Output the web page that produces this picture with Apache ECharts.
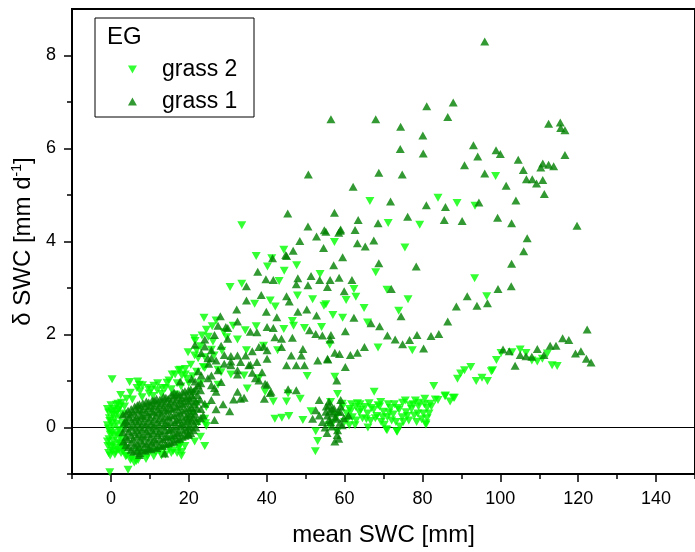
<!DOCTYPE html>
<html>
<head>
<meta charset="utf-8">
<script src="https://cdn.jsdelivr.net/npm/echarts@6/dist/echarts.min.js"></script>
<style>
  html, body { margin: 0; padding: 0; background: #fff; }
  #chart { width: 695px; height: 552px; }
</style>
</head>
<body>
<div id="chart"></div>
<script>
// tick positions
const xMajor = [0, 20, 40, 60, 80, 100, 120, 140]
const xMinor = [-10, 10, 30, 50, 70, 90, 110, 130, 150]
const yMajor = [0, 2, 4, 6, 8]
const yMinor = [-1, 1, 3, 5, 7]

// grass 2 (light green, down triangles)  [mean SWC, delta SWC]
const grass2 = [
  [98.8,5.41],[66.5,4.87],[84.0,4.94],[88.9,4.83],[93.5,4.77],[71.2,4.40],[79.3,4.36],[57.4,3.99],[75.5,3.87],
  [68.0,3.34],[70.9,2.96],[62.4,2.98],[62.9,2.81],[60.4,2.74],[76.3,2.76],[65.0,2.57],[73.9,2.51],[57.0,2.42],
  [59.5,2.36],[65.9,2.26],[55.2,2.65],[93.4,3.21],[96.5,2.82],[68.6,1.72],[77.4,1.66],[56.2,1.78],[57.5,1.09],
  [58.2,0.72],[67.6,0.77],[82.9,0.89],
  [84.0,0.59],[85.9,0.69],[87.1,0.56],[88.2,0.64],[89.0,1.05],[89.8,1.16],[90.8,1.23],[92.4,1.30],[93.8,1.00],
  [95.3,1.07],[96.7,1.00],[97.7,1.21],[99.0,1.45],[100.2,1.60],[103.0,1.62],[83.3,0.60],[85.8,0.67],[87.9,0.64],
  [98.0,1.23],[105.1,1.68],[106.6,1.60],[108.1,1.44],[109.5,1.42],[110.8,1.48],[112.1,1.59],[113.3,1.34],[114.6,1.32],
  [70.7,-0.04],[73.4,-0.08],[80.9,0.06],[67.4,-1.02],
  [59.5,0.45],[60.5,0.30],[61.3,0.40],[62.0,0.22],[62.7,0.05],[62.9,0.44],[63.8,0.33],[64.6,0.20],[65.2,0.44],
  [65.9,0.30],[66.7,0.14],[67.5,0.38],[68.3,0.25],[68.6,0.48],[69.4,0.12],[70.0,0.34],[70.9,-0.06],[71.0,0.22],
  [71.8,0.42],[72.5,0.28],[73.2,0.12],[73.5,-0.09],[74.0,0.38],[74.8,0.22],[74.9,0.53],[75.8,0.33],[76.5,0.15],
  [77.2,0.40],[77.9,0.26],[78.5,0.12],[79.0,0.45],[79.1,0.53],[80.2,0.30],[80.9,0.09],[81.2,0.20],[81.2,0.42],
  [82.0,0.51],[60.0,0.12],[61.8,0.50],[64.0,0.50],[66.3,0.52],[69.0,0.45],[72.8,0.50],[76.8,0.48],[78.2,0.58],
  [80.6,0.62],[70.2,0.06],[74.2,0.02],[63.0,0.15],[58.0,0.25],[57.0,0.10],[56.0,0.05],
  [60.8,0.18],[63.3,0.52],[64.2,0.38],[65.6,0.18],[66.9,0.42],[67.9,0.20],[69.8,0.22],[71.4,0.32],[72.1,0.15],
  [73.7,0.42],[75.1,0.12],[76.1,0.25],[77.6,0.50],[78.8,0.30],[79.8,0.18],[81.7,0.30],[61.2,0.05],[66.0,0.00],
  [69.3,0.55],[75.6,0.58],[71.2,0.50],[80.5,0.50],[82.3,0.45],
  [33.6,4.35],[37.3,3.69],[41.3,3.64],[40.2,3.46],[44.4,3.82],[47.7,3.49],[44.5,3.37],[43.2,3.15],[53.7,3.30],
  [30.6,3.02],[33.6,3.09],[36.9,2.66],[40.9,2.73],[42.2,2.60],[47.9,2.84],[51.8,2.76],[54.7,2.62],[23.9,2.36],
  [26.0,2.18],[31.4,2.19],[37.3,2.18],[34.5,2.09],[44.4,2.12],[46.6,2.29],[46.9,2.19],[49.7,2.14],[54.1,2.16],
  [21.4,1.92],[23.4,1.98],[26.2,1.85],[29.7,1.94],[32.5,1.89],[19.8,1.62],[22.0,1.66],[24.1,1.51],[34.8,1.66],
  [39.2,1.76],[42.8,1.66],[50.4,1.11],[19.1,1.26],[18.2,1.12],[28.3,1.19],[34.2,1.12],[38.0,1.06],[35.0,0.84],
  [39.6,0.77],[41.7,0.56],[45.1,0.56],[48.6,0.62],[45.5,0.73],[42.1,0.19],[43.9,0.21],[45.7,0.25],[49.3,0.16],
  [51.4,0.35],[24.3,0.09],[53.1,-0.29],[52.5,-0.51],[52.6,-0.08],[24.1,-0.40],[58.1,-0.09],[56.4,0.55],[59.4,0.51],
  [61.6,0.35],
  [21.6,1.86],[17.8,1.24],[15.7,1.14],[19.1,1.14],[22.4,1.49],[25.8,1.67],[24.1,1.28],[27.5,1.24],[27.5,0.92],
  [30.8,1.14],[24.5,0.03],[16.5,0.71],[14.4,0.96],[10.3,0.81],[7.3,0.92],[13.2,0.85],[17.4,-0.44],[18.1,-0.61],
  [14.0,-0.58],[9.4,-0.61],[6.5,-0.72],[3.1,-0.51],[1.4,-0.44],[0.6,-0.29],[-0.3,-0.08],[-0.3,0.14],[0.2,0.35],
  [1.4,0.49],[2.7,0.53],
  [20.5,1.35],[21.5,1.55],[23.0,1.75],[22.0,1.20],[25.0,1.95],[26.5,1.55],[28.5,1.65],[29.0,2.05],[27.0,2.30],
  [24.5,2.10],[21.0,0.75],[22.0,0.50],[23.0,0.95],
  [0.3,1.04],[4.8,0.98],[6.9,0.99],[8.1,0.91],[6.7,0.85],[4.0,0.62],[1.8,0.51],[11.9,0.80],[9.8,0.73],
  [14.9,1.01],[16.5,1.14],[17.4,1.23],[23.7,1.30],[24.5,0.44],[24.1,0.19],[18.2,-0.52],[17.4,-0.38],[6.0,-0.75],
  [4.4,-0.91],[-0.3,-0.96],[11.5,-0.52],[13.6,-0.45],[6.9,-0.52],[15.7,-0.26],[17.8,-0.36],
  [-0.6,-0.55],[0.2,-0.5],[1.0,-0.58],[2.0,-0.48],[-0.8,-0.4],[0.5,-0.38],[1.8,-0.32],[2.8,-0.4],[-0.5,-0.25],
  [0.9,-0.18],[2.2,-0.2],[-0.7,-0.02],[0.6,0.02],[1.9,-0.05],[2.9,0.05],[-0.4,0.2],[1.0,0.18],[2.3,0.22],
  [-0.6,0.32],[0.8,0.4],[2.0,0.38],[3.0,0.3],[0.0,0.48],[1.2,0.28],[2.6,-0.1],[-0.2,-0.6],[1.5,0.08],[3.0,-0.25],
  [-0.9,-0.3],[-0.9,0.05],[-0.9,0.4],[0.3,-0.12],[0.3,0.1],[1.5,-0.15],[1.5,0.35],[2.4,0.45],[2.4,-0.35],
  [3.5,-0.45],[3.5,0.1],[0.0,-0.42],[1.2,-0.52],[2.6,-0.55],[0.5,0.28],[-0.2,-0.15],[3.8,-0.62],[5.0,-0.70],
  [7.0,-0.70],[9.0,-0.68],[11.0,-0.62],[13.0,-0.60],[15.5,-0.55],[17.0,-0.55],[5.0,0.75],[7.5,0.78],[9.5,0.85],
  [11.0,0.90],[14.0,0.85],[17.0,0.95],[19.5,1.05],[21.0,1.10],
  [4.0,-0.6],[5.2,-0.65],[8.5,-0.55],[12.5,-0.5],[15.0,-0.45],[3.5,0.45],[5.5,0.6],[8.0,0.65],[10.8,0.68],
  [13.0,0.72],[15.5,0.82],[18.0,0.88],[20.0,0.95],[21.0,0.3],[22.5,0.1],[23.0,-0.2],[21.5,-0.3],[19.0,-0.4],
  [16.0,-0.5],[2.5,0.7],[12.0,0.95]
]

// grass 1 (dark green, up triangles)
const grass1 = [
  [96.0,8.30],[81.1,6.91],[87.9,6.99],[86.5,6.68],[56.5,6.63],[68.0,6.63],[74.4,6.47],[80.1,6.28],[74.3,5.99],
  [80.2,5.89],[93.1,6.07],[94.2,5.83],[98.9,5.96],[100.0,5.88],[104.6,5.76],[90.8,5.64],[68.8,5.48],[74.8,5.44],
  [96.0,5.46],[101.5,5.20],[62.2,5.18],[71.8,4.86],[81.0,4.78],[85.9,4.74],[94.5,4.84],[104.0,4.88],[57.4,4.62],
  [63.5,4.46],[68.6,4.39],[76.2,4.53],[85.6,4.46],[90.2,4.44],[99.3,4.51],[102.9,4.39],[59.0,4.26],[58.5,4.19],
  [62.7,4.25],[55.2,4.21],[67.5,4.02],[63.3,3.96],[65.3,3.89],
  [112.4,6.53],[115.4,6.56],[115.5,6.44],[116.6,6.39],[116.6,5.86],[105.9,5.54],[110.9,5.68],[112.4,5.65],[113.7,5.62],
  [110.4,5.59],[106.7,5.34],[108.2,5.34],[109.3,5.25],[110.9,5.32],[111.3,5.02],[119.7,4.34],
  [106.9,4.07],[106.0,3.79],[102.9,3.52],[99.4,2.98],[102.8,3.04],[122.3,2.11],[116.0,1.92],[117.6,1.88],[112.8,1.76],
  [114.3,1.76],[109.5,1.69],[100.7,1.68],[102.3,1.64],[105.1,1.56],[106.6,1.53],[108.1,1.52],[111.2,1.56],[119.3,1.59],
  [120.7,1.64],[122.1,1.48],[123.3,1.40],[103.8,1.33],
  [59.5,3.66],[57.2,3.49],[68.8,3.53],[78.4,3.46],[56.3,3.17],[58.6,3.22],[61.9,3.17],[55.6,3.02],[59.9,2.93],
  [72.0,2.98],[91.5,2.82],[94.0,2.62],[96.7,2.67],[88.7,2.60],[86.5,2.28],[62.4,2.36],[74.5,2.39],[66.8,2.24],
  [69.0,2.18],[60.2,2.07],[56.5,1.99],[56.3,1.89],[71.0,1.98],[73.0,1.89],[76.7,1.88],[78.6,1.99],[74.9,1.79],
  [80.3,1.70],[82.2,1.97],[84.2,2.01],[65.1,1.73],[63.3,1.61],[61.5,1.56],[57.5,1.61],[58.7,1.58],[55.7,1.46],
  [60.2,1.30],[58.0,1.01],[59.0,0.59],[56.0,0.48],[57.3,0.41],[58.4,0.34],[55.6,0.26],[57.7,0.19],[56.4,0.12],
  [58.2,-0.06],[58.1,-0.16],
  [55.0,0.00],[55.5,-0.12],[56.8,0.02],[57.0,0.30],[58.8,0.10],[59.8,0.20],[56.2,0.35],[57.5,-0.30],[59.0,0.45],
  [55.3,0.45],
  [50.7,5.44],[45.4,4.60],[52.8,4.11],[44.9,3.71],[41.5,3.64],
  [50.6,4.32],[54.8,4.24],[58.9,4.23],[48.5,4.01],[54.6,3.86],[46.8,3.80],[45.1,3.69],[37.7,3.35],[39.8,3.19],
  [41.7,3.17],[51.4,3.26],[48.0,3.21],[53.6,3.17],[34.8,3.04],[50.6,3.06],[47.6,3.08],[38.6,2.85],[45.1,2.82],
  [45.8,2.71],[34.8,2.73],[32.3,2.54],[39.9,2.49],[48.0,2.49],[50.3,2.54],[42.6,2.37],[52.8,2.41],[28.1,2.39],
  [40.1,2.16],[41.7,2.14],[37.5,2.05],[35.8,2.06],[42.1,1.94],[43.8,1.91],[46.6,1.93],[51.0,2.09],[52.6,2.01],
  [54.3,1.98],[29.5,2.16],[27.5,2.19],[30.0,1.91],[28.3,1.76],[38.0,1.73],[40.1,1.66],[36.3,1.64],[34.6,1.55],
  [32.5,1.55],[30.8,1.54],[43.8,1.73],[46.3,1.55],[49.3,1.69],[48.9,1.55],[47.6,1.34],[49.7,1.34],[45.1,1.34],
  [40.1,1.48],[37.5,1.41],[35.4,1.34],[33.3,1.41],[25.8,1.66],[27.0,1.44],[25.1,1.37],[29.1,1.37],[30.8,1.34],
  [53.1,1.44],[55.6,1.48],[32.5,1.23],[36.3,1.18],[38.8,1.19],[27.5,1.23],[25.8,1.12],[23.2,1.12],[20.7,1.05],
  [22.4,0.91],[25.8,0.91],[28.3,0.98],[27.0,0.77],[38.0,1.01],[39.6,0.94],[32.5,0.77],[33.3,0.62],[39.4,0.62],
  [41.1,0.77],[45.5,0.82],[47.6,0.80],[25.8,0.59],[24.1,0.51],[26.6,0.16],[23.7,0.26],[19.9,-0.13],[19.9,0.19],
  [53.5,0.59],[56.0,0.56],[51.8,0.19],[53.5,0.26],[55.2,0.34],[56.9,0.41],[54.3,0.12],[56.0,0.16],[57.7,0.23],
  [58.5,-0.24],[59.4,0.05],[52.6,0.37],[58.9,0.34],[61.0,0.26],
  [17.8,0.99],[21.6,0.99],[22.4,1.21],[21.6,1.78],[24.1,1.74],[25.8,1.49],[24.1,1.89],[26.6,1.99],[30.0,2.14],
  [32.5,2.28],[23.2,1.60],[24.9,1.49],[24.9,1.06],[26.6,0.85],[27.0,0.39],[29.1,1.56],[30.8,1.42],[32.5,1.14],
  [35.8,1.35],[34.2,0.64],[39.2,1.74],[40.1,0.92],[40.9,0.74],[37.1,1.06],[28.8,0.50],[30.5,0.35],[31.5,0.60],
  [13.8,-0.56],[7.3,-0.59],[9.8,-0.45],[19.9,-0.16],
  [3.2,-0.3],[3.0,-0.1],[3.4,0.1],[3.1,0.28],
  [4.5,-0.42],[4.2,-0.25],[4.6,-0.08],[4.3,0.08],[4.7,0.22],[4.4,0.36],
  [5.8,-0.52],[6.1,-0.38],[5.7,-0.24],[6.0,-0.1],[5.9,0.04],[6.2,0.18],[5.8,0.32],[6.1,0.45],
  [7.4,-0.55],[7.2,-0.42],[7.6,-0.28],[7.3,-0.14],[7.5,0.0],[7.2,0.14],[7.6,0.27],[7.4,0.4],[7.3,0.5],
  [8.8,-0.5],[9.0,-0.36],[8.7,-0.22],[9.1,-0.08],[8.9,0.06],[8.6,0.2],[9.0,0.33],[8.8,0.46],[9.1,0.56],
  [10.3,-0.47],[10.5,-0.33],[10.2,-0.2],[10.6,-0.06],[10.4,0.08],[10.1,0.22],[10.5,0.35],[10.3,0.48],[10.6,0.58],
  [11.8,-0.44],[11.6,-0.3],[12.0,-0.16],[11.7,-0.02],[11.9,0.12],[11.6,0.26],[12.0,0.39],[11.8,0.52],[11.7,0.62],
  [13.2,-0.4],[13.4,-0.26],[13.1,-0.12],[13.5,0.02],[13.3,0.16],[13.0,0.3],[13.4,0.43],[13.2,0.56],[13.5,0.66],
  [14.7,-0.34],[14.5,-0.2],[14.9,-0.06],[14.6,0.08],[14.8,0.22],[14.5,0.36],[14.9,0.49],[14.7,0.62],
  [16.1,-0.3],[16.3,-0.16],[16.0,-0.02],[16.4,0.12],[16.2,0.26],[15.9,0.4],[16.3,0.53],[16.1,0.66],[16.2,0.76],
  [17.6,-0.24],[17.4,-0.1],[17.8,0.04],[17.5,0.18],[17.7,0.32],[17.4,0.46],[17.8,0.58],[17.6,0.7],
  [19.0,-0.18],[19.2,-0.04],[18.9,0.1],[19.3,0.24],[19.1,0.38],[18.8,0.52],[19.2,0.64],[19.0,0.78],
  [20.5,-0.12],[20.3,0.02],[20.7,0.16],[20.4,0.3],[20.6,0.44],[20.3,0.58],[20.7,0.7],[20.5,0.82],
  [21.8,0.0],[22.0,0.14],[21.7,0.28],[22.1,0.42],[21.9,0.56],[22.2,0.7],[21.8,0.84],
  [3.8,-0.38],[3.9,-0.2],[3.7,-0.02],[3.8,0.15],[3.9,0.3],
  [5.2,-0.48],[5.3,-0.32],[5.1,-0.16],[5.2,0.0],[5.3,0.14],[5.1,0.28],[5.2,0.4],
  [6.7,-0.5],[6.8,-0.35],[6.6,-0.2],[6.7,-0.06],[6.8,0.08],[6.6,0.22],[6.7,0.36],[6.8,0.48],
  [8.1,-0.48],[8.2,-0.34],[8.0,-0.18],[8.1,-0.04],[8.2,0.1],[8.0,0.25],[8.1,0.38],[8.2,0.52],
  [9.6,-0.44],[9.7,-0.3],[9.5,-0.14],[9.6,0.0],[9.7,0.14],[9.5,0.28],[9.6,0.42],[9.7,0.54],
  [11.0,-0.42],[11.1,-0.26],[10.9,-0.12],[11.0,0.04],[11.1,0.18],[10.9,0.32],[11.0,0.45],[11.1,0.58],
  [12.5,-0.38],[12.6,-0.24],[12.4,-0.08],[12.5,0.06],[12.6,0.2],[12.4,0.34],[12.5,0.48],[12.6,0.6],
  [14.0,-0.36],[14.1,-0.2],[13.9,-0.06],[14.0,0.1],[14.1,0.24],[13.9,0.38],[14.0,0.52],[14.1,0.64],
  [15.4,-0.32],[15.5,-0.18],[15.3,-0.04],[15.4,0.12],[15.5,0.26],[15.3,0.42],[15.4,0.56],[15.5,0.7],
  [16.9,-0.26],[17.0,-0.12],[16.8,0.02],[16.9,0.16],[17.0,0.3],[16.8,0.44],[16.9,0.6],[17.0,0.72],
  [18.3,-0.2],[18.4,-0.06],[18.2,0.08],[18.3,0.22],[18.4,0.36],[18.2,0.5],[18.3,0.64],[18.4,0.76],
  [19.8,-0.14],[19.9,0.0],[19.7,0.14],[19.8,0.28],[19.9,0.42],[19.7,0.56],[19.8,0.68],[19.9,0.8],
  [21.2,-0.06],[21.3,0.08],[21.1,0.22],[21.2,0.36],[21.3,0.5],[21.1,0.64],[21.2,0.78],
  [23.0,0.2],[23.1,0.4],[22.9,0.6],[23.0,0.8],[23.1,0.95]
]

const FONT = 'Liberation Sans, Arial, sans-serif'
const chart = echarts.init(document.getElementById('chart'))

const axisBase = {
  type: 'value',
  splitLine: { show: false },
  axisLine: { onZero: false, lineStyle: { color: '#000', width: 2 } },
  axisTick: { inside: false, lineStyle: { color: '#000', width: 1.5 } },
  axisLabel: { color: '#000', fontSize: 18, fontFamily: FONT, margin: 14 },
}

chart.setOption({
  animation: false,
  backgroundColor: '#fff',
  grid: {
    left: 72, top: 9, bottom: 76, right: -12,
    show: true, borderColor: '#000', borderWidth: 2, backgroundColor: 'transparent'
  },
  xAxis: [
    Object.assign({}, axisBase, {
      position: 'bottom', min: -10, max: 150,
      axisTick: { lineStyle: { color: '#000', width: 1.5 }, length: 5, customValues: xMinor },
      axisLabel: { show: false },
      name: 'mean SWC [mm]', nameLocation: 'middle', nameGap: 49,
      nameTextStyle: { color: '#000', fontSize: 24, fontFamily: FONT },
    }),
    Object.assign({}, axisBase, {
      position: 'bottom', min: -10, max: 150,
      axisLine: { show: false, onZero: false },
      axisTick: { lineStyle: { color: '#000', width: 1.5 }, length: 8, customValues: xMajor },
      axisLabel: { color: '#000', fontSize: 18, fontFamily: FONT, margin: 16, customValues: xMajor },
    }),
  ],
  yAxis: [
    Object.assign({}, axisBase, {
      position: 'left', min: -1, max: 9,
      axisTick: { lineStyle: { color: '#000', width: 1.5 }, length: 5, customValues: yMinor },
      axisLabel: { show: false },
    }),
    Object.assign({}, axisBase, {
      position: 'left', min: -1, max: 9,
      axisLine: { show: false, onZero: false },
      axisTick: { lineStyle: { color: '#000', width: 1.5 }, length: 8, customValues: yMajor },
      axisLabel: { color: '#000', fontSize: 18, fontFamily: FONT, margin: 16, customValues: yMajor },
      name: '{t|δ SWC [mm d}{s|-1}{t|]}', nameLocation: 'middle', nameGap: 21, nameRotate: 90,
      nameTextStyle: {
        color: '#000', fontSize: 24, fontFamily: FONT,
        rich: {
          t: { fontSize: 24, fontFamily: FONT, color: '#000', lineHeight: 26 },
          s: { fontSize: 14, fontFamily: FONT, color: '#000', verticalAlign: 'top', lineHeight: 26 },
        }
      },
    }),
  ],
  legend: {
    data: [
      { name: 'grass 2', icon: 'path://M0,0L10,0L5,9Z' },
      { name: 'grass 1', icon: 'path://M5,0L10,9L0,9Z' },
    ],
    orient: 'vertical',
    left: 128, top: 58, padding: 0,
    itemWidth: 9, itemHeight: 8, itemGap: 9,
    textStyle: { color: '#000', fontSize: 23, fontFamily: FONT, lineHeight: 20, padding: [0, 0, 0, 20] },
  },
  graphic: [
    { type: 'rect', shape: { x: 95, y: 18, width: 159, height: 99 },
      style: { fill: 'none', stroke: '#000', lineWidth: 1 } },
    { type: 'text', x: 107, y: 37,
      style: { text: 'EG', fill: '#000', font: '24px ' + FONT, verticalAlign: 'middle' } },
  ],
  series: [
    {
      name: 'grass 2', type: 'scatter', data: grass2,
      symbol: 'triangle', symbolRotate: 180, symbolSize: [9, 8],
      itemStyle: { color: '#00ff00' }, z: 2,
      markLine: {
        silent: true, symbol: 'none', z: 1,
        label: { show: false },
        lineStyle: { color: '#000', width: 1.2, type: 'solid' },
        data: [{ yAxis: 0 }]
      }
    },
    {
      name: 'grass 1', type: 'scatter', data: grass1,
      symbol: 'triangle', symbolSize: [9, 8],
      itemStyle: { color: '#008000' }, z: 3,
    },
  ],
})
</script>
</body>
</html>
